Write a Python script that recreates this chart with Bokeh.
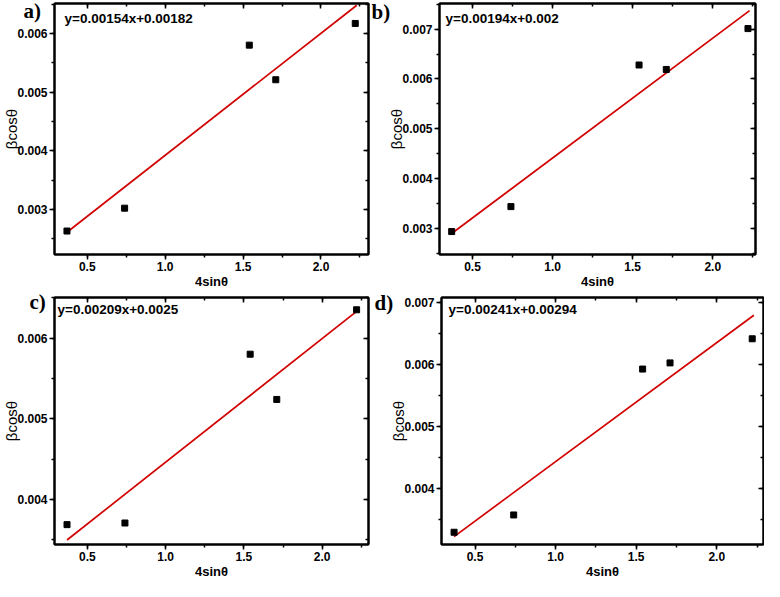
from bokeh.plotting import figure
from bokeh.models import (Range1d, SingleIntervalTicker, LinearAxis, Label, Title,
                          NumeralTickFormatter, CustomJSTickFormatter)
from bokeh.layouts import row, column
from bokeh.embed import file_html
from bokeh.resources import INLINE

# ---- data ----
x_vals = [0.37, 0.74, 1.54, 1.71, 2.22]
y_a = [0.00263, 0.00302, 0.00580, 0.00521, 0.00617]
y_b = [0.00294, 0.00344, 0.00628, 0.00619, 0.00701]
y_c = [0.00369, 0.00371, 0.00580, 0.00524, 0.00635]
y_d = [0.00329, 0.00357, 0.00593, 0.00603, 0.00642]

fit_x_a = [0.37, 2.23]
fit_y_a = [0.00261, 0.00648]
fit_x_b = [0.37, 2.23]
fit_y_b = [0.00290, 0.00737]
fit_x_c = [0.37, 2.22]
fit_y_c = [0.00350, 0.00633]
fit_x_d = [0.37, 2.23]
fit_y_d = [0.00322, 0.00680]

equations = ["y=0.00154x+0.00182", "y=0.00194x+0.002",
             "y=0.00209x+0.0025", "y=0.00241x+0.00294"]
panel_labels = ["a)", "b)", "c)", "d)"]
x_ranges = [(0.29, 2.305), (0.294, 2.267), (0.29, 2.296), (0.292, 2.29)]
y_ranges = [(0.00223, 0.00651), (0.00248, 0.007513),
            (0.003444, 0.006502), (0.003092, 0.007088)]

x_label = "4sinθ"
y_label = "βcosθ"

SANS = "Liberation Sans"
SERIF = "Liberation Serif"


def make_panel(i, ys, fx, fy, width, height, borders, label_off, eq_off):
    bl, br, bt, bb = borders
    p = figure(width=width, height=height,
               x_range=Range1d(*x_ranges[i]), y_range=Range1d(*y_ranges[i]),
               output_backend="svg", toolbar_location=None,
               min_border_left=bl, min_border_right=br,
               min_border_top=bt, min_border_bottom=bb)
    p.grid.visible = False
    p.outline_line_color = "black"
    p.outline_line_width = 2
    p.background_fill_color = "white"
    p.border_fill_color = "white"

    xt = SingleIntervalTicker(interval=0.5, num_minor_ticks=2)
    yt = SingleIntervalTicker(interval=0.001, num_minor_ticks=2)

    xa = p.xaxis[0]
    ya = p.yaxis[0]
    xa.ticker = xt
    ya.ticker = yt
    xa.formatter = NumeralTickFormatter(format="0.0")
    ya.formatter = NumeralTickFormatter(format="0.000")
    for ax in (xa, ya):
        ax.axis_line_width = 2
        ax.major_tick_line_width = 1.5
        ax.minor_tick_line_width = 1.5
        ax.major_tick_out = 5
        ax.major_tick_in = 0
        ax.minor_tick_out = 3
        ax.minor_tick_in = 0
        ax.major_label_text_font = SANS
        ax.major_label_text_font_style = "bold"
        ax.major_label_text_font_size = "12px"
        ax.major_label_standoff = 2
        ax.axis_label_text_font = SANS
        ax.axis_label_text_color = "black"
        ax.major_label_text_color = "black"
    xa.axis_label = x_label
    xa.axis_label_text_font_style = "bold"
    xa.axis_label_text_font_size = "13px"
    xa.axis_label_standoff = 0
    ya.axis_label = y_label
    ya.axis_label_text_font_style = "normal"
    ya.axis_label_text_font_size = "15px"
    ya.axis_label_standoff = -6

    blank = CustomJSTickFormatter(code="return ''")
    top = LinearAxis(ticker=xt, formatter=blank)
    right = LinearAxis(ticker=yt, formatter=blank)
    for ax in (top, right):
        ax.axis_line_width = 2
        ax.major_tick_line_width = 1.5
        ax.minor_tick_line_width = 1.5
        ax.major_tick_in = 5
        ax.major_tick_out = 0
        ax.minor_tick_in = 3
        ax.minor_tick_out = 0
        ax.major_label_standoff = 0
        ax.major_label_text_font_size = "1px"
    p.add_layout(top, "above")
    p.add_layout(right, "right")

    p.line(fx, fy, line_color="#d20000", line_width=1.7)
    p.scatter(x_vals, ys, marker="square", size=6, fill_color="black",
              line_color="black")

    p.add_layout(Label(x=x_ranges[i][0], y=y_ranges[i][1],
                       x_offset=eq_off[0], y_offset=eq_off[1],
                       text=equations[i], text_font=SANS,
                       text_font_style="bold", text_font_size="13.5px",
                       text_baseline="middle", text_color="black"))
    p.add_layout(Title(text=panel_labels[i], align="left",
                       offset=label_off[0], standoff=label_off[1],
                       vertical_align="bottom", text_font=SERIF,
                       text_font_style="bold", text_font_size="21px",
                       text_color="black"), "above")
    return p


pa = make_panel(0, y_a, fit_x_a, fit_y_a, 370, 291, (40, 2, 3, 34),
                (-31, -39), (10, -15))
pb = make_panel(1, y_b, fit_x_b, fit_y_b, 394, 291, (69, 9, 3, 34),
                (-68, -41), (6, -15))
pc = make_panel(2, y_c, fit_x_c, fit_y_c, 370, 290, (40, 2, 6, 32),
                (-25, -32), (3, -12))
pd = make_panel(3, y_d, fit_x_d, fit_y_d, 394, 290, (71, 1, 6, 32),
                (-67, -35), (7, -12))

layout = column(row(pa, pb), row(pc, pd))

open("out.html", "w").write(file_html(layout, INLINE))
